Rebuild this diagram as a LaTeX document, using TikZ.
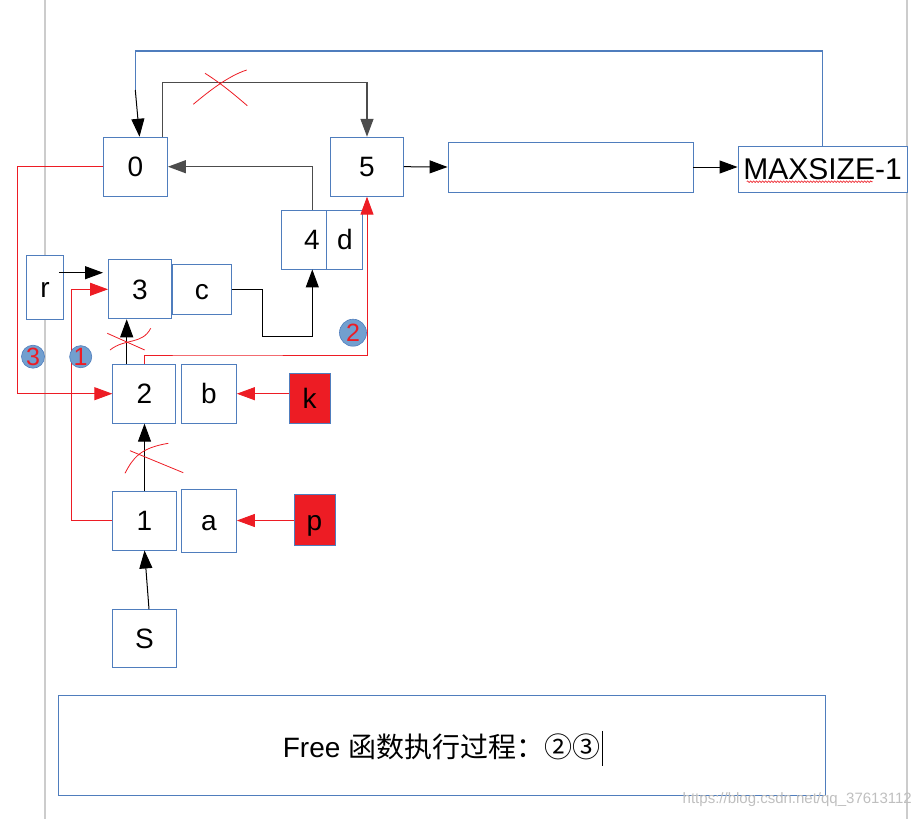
\documentclass[tikz,border=0pt]{standalone}
\usepackage{fontspec}
\setmainfont{Liberation Sans}
\newfontfamily\cjk{Noto Sans CJK SC}
\usetikzlibrary{arrows.meta, positioning, decorations.pathmorphing}
\definecolor{boxblue}{HTML}{4F7DBD}
\definecolor{markred}{HTML}{ED1C24}
\definecolor{dotblue}{HTML}{729FCF}

\begin{document}
\begin{tikzpicture}[x=1pt, y=-1pt, node distance=0pt]
% Define cell styles
\tikzstyle{cell} = [rectangle, draw=boxblue, line width=0.9pt, fill=white, inner sep=0pt, text centered, text height=20pt, text depth=0pt, font=\fontsize{28}{32}\selectfont]
\tikzstyle{ptr} = [cell, fill=markred]
\tikzstyle{stepdot} = [circle, fill=dotblue, draw=boxblue, line width=0.6pt, inner sep=0pt, text=markred, font=\fontsize{25}{25}\selectfont]
\tikzstyle{arrow} = [-{Triangle[length=18pt,width=13pt]}, line width=1pt, draw=black]
\tikzstyle{grayarrow} = [arrow, draw=black!70, line width=1.4pt]
\tikzstyle{redarrow} = [arrow, draw=markred, line width=0.9pt]
\tikzstyle{xmark} = [draw=markred, line width=0.8pt]

\useasboundingbox (0,0) rectangle (918,819);
% page borders
\draw[black!20, line width=1.2pt] (45,0) -- (45,819);
\draw[black!20, line width=1.2pt] (907,0) -- (907,819);

% Define top row (array)
\node[cell, minimum width=64pt, minimum height=59pt] (n0) at (135.5,166.7) {0};
\node[cell, minimum width=73pt, minimum height=59pt] (n5) at (367,166.7) {5};
\node[cell, minimum width=245pt, minimum height=50pt] (blank) at (570.5,167) {};
\node[cell, minimum width=169pt, minimum height=46pt, font=\fontsize{30}{34}\selectfont] (maxs) at (822.5,169) {MAXSIZE-1};
% Define stack cells
\node[cell, minimum width=45pt, minimum height=59pt] (n4) at (303.5,239.5) {\hspace{17pt}4};
\node[cell, right=of n4, minimum width=36pt, minimum height=59pt] (nd) {d};
\node[cell, minimum width=37pt, minimum height=64pt] (nr) at (45,287) {r};
\node[cell, minimum width=63pt, minimum height=59pt] (n3) at (140,289.3) {3};
\node[cell, right=of n3, minimum width=59pt, minimum height=50pt] (nc) {c};
\node[cell, minimum width=63pt, minimum height=59pt] (n2) at (144.3,393.7) {2};
\node[cell, right=4.7pt of n2, minimum width=55pt, minimum height=59pt] (nb) {b};
\node[ptr, minimum width=41pt, minimum height=50pt] (nk) at (309.7,398) {k};
\node[cell, minimum width=64pt, minimum height=59pt] (n1) at (144.5,520.5) {1};
\node[cell, right=4pt of n1, minimum width=55pt, minimum height=63pt] (na) {a};
\node[ptr, minimum width=41pt, minimum height=51pt] (np) at (314.5,520.3) {p};
\node[cell, minimum width=64pt, minimum height=58pt] (nS) at (144.5,638.5) {S};
% Define note box
\node[cell, minimum width=767pt, minimum height=100pt] (note) at (441.5,745) {};
\node[inner sep=0pt, font=\fontsize{28}{32}\selectfont] (notetext) at (441.5,747) {Free {\cjk 函数执行过程：②③}};
\draw[line width=0.7pt] ([xshift=2pt,yshift=3pt]notetext.north east) -- ([xshift=2pt,yshift=-6pt]notetext.south east);
\node[anchor=east, inner sep=0pt, text=black!25, font=\fontsize{15}{15}\selectfont] (mark) at (912,800) {https://blog.csdn.net/qq\_37613112};
% spell check underline
\draw[markred, line width=0.6pt, decorate, decoration={snake, amplitude=0.8pt, segment length=3pt}] (746.7,181.7) -- (872.7,181.7);

% Define helper coordinates
\coordinate (toprun) at (135.3,51);
\coordinate (topbend) at (135.3,90);
\coordinate (skip) at (250,82.7);
\coordinate (cturn) at (262.7,336.7);
\coordinate (up25) at (200,355);
\coordinate (left13) at (71.7,289.3);
\coordinate (left03) at (17.3,300);

% Relationships (arrows)
\draw[draw=boxblue, line width=1.1pt] (maxs.north) |- (toprun) -- (topbend);
\draw[arrow] (topbend) -- ([xshift=4pt]n0.north);
\draw[grayarrow] ([xshift=27pt]n0.north) |- (skip) -| (n5.north);
\draw[grayarrow] ([xshift=8.8pt]n4.north) |- (n0.east);
\draw[arrow] (n5.east) -- (blank.west);
\draw[arrow] (blank.east) -- (blank.east -| maxs.west);
\draw[arrow] (nc.east) -| (cturn) -| ([xshift=8.8pt]n4.south);
\draw[arrow] ([yshift=14.3pt,xshift=-5pt]nr.east) -- ([yshift=14.3pt,xshift=-5pt]nr.east -| n3.west);
\draw[arrow] ([xshift=-17.6pt]n2.north) -- ([xshift=-17.6pt]n2.north |- n3.south);
\draw[arrow] (n1.north) -- (n1.north |- n2.south);
\draw[arrow] ([xshift=4.5pt]nS.north) -- (n1.south);
% Red steps
\draw[redarrow] (n2.north) |- (up25) -| (n5.south);
\draw[redarrow] (n1.west) -| (left13) -- (n3.west);
\draw[redarrow] (n0.west) -| (left03) |- (n2.west);
\draw[redarrow] (nb.east -| nk.west) -- (nb.east);
\draw[redarrow] (na.east -| np.west) -- (na.east);

% crossed-out links
\draw[xmark] (193.3,104.3) .. controls (208,92) and (228,76) .. (246.7,70);
\draw[xmark] (205,73.3) .. controls (222,84) and (236,96) .. (247.3,105.7);
\draw[xmark] (107.3,333.3) -- (144.7,350);
\draw[xmark] (110,350) .. controls (125,338) and (142,345) .. (150.7,328.3);
\draw[xmark] (125,473.3) .. controls (133,458) and (140,448) .. (168.3,443.3);
\draw[xmark] (130,450.7) -- (183.3,472.7);

% step numbers
\node[stepdot, minimum size=27pt] (s2) at (353,332.7) {2};
\node[stepdot, minimum size=23pt] (s3) at (33,356.7) {3};
\node[stepdot, minimum size=21pt] (s1) at (80.7,356.7) {1};
\end{tikzpicture}
\end{document}
